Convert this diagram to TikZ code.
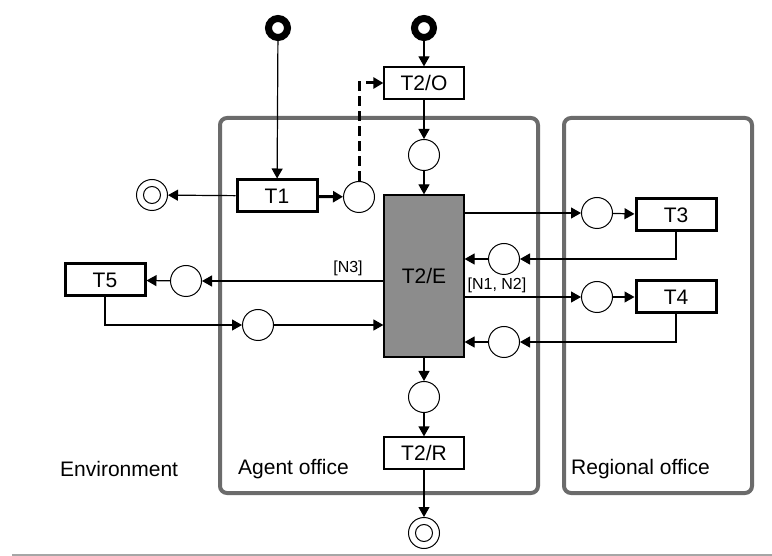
\documentclass[tikz,border=0pt]{standalone}
\usepackage{fontspec}
\setmainfont{Liberation Sans}
\usetikzlibrary{arrows.meta}
\definecolor{actorgray}{RGB}{140,140,140}
\begin{document}
\begin{tikzpicture}[x=1pt,y=-1pt,
  every node/.style={font=\fontsize{21}{23}\selectfont},
  trans/.style={draw, rectangle, minimum width=80pt, minimum height=32pt, inner sep=0pt, line width=1.2pt},
  transthick/.style={trans, line width=3pt},
  actor/.style={draw, rectangle, fill=actorgray, minimum width=80pt, minimum height=162pt, inner sep=0pt, line width=1.2pt},
  place/.style={draw, circle, minimum size=31pt, inner sep=0pt, line width=1pt},
  source/.style={draw=black, circle, line width=7pt, minimum size=19pt, inner sep=0pt},
  sink/.style={draw, circle, minimum size=31pt, inner sep=0pt, line width=1pt,
    path picture={\draw[line width=1pt] (path picture bounding box.center) circle (8.5pt);}},
  conn/.style={-{Triangle[length=10pt,width=11pt]}, line width=1.2pt},
  connthick/.style={conn, line width=3pt},
  connlink/.style={conn, line width=3pt, dash pattern=on 10pt off 5pt},
  office/.style={draw=black!58, line width=4pt, rounded corners=7pt},
  tag/.style={font=\fontsize{16}{18}\selectfont, inner sep=1pt},
  area/.style={inner sep=0pt}]
\useasboundingbox (0,0) rectangle (772,556);
\fill[white] (0,0) rectangle (772,556);

% organisational units
\draw[office] (220,118) rectangle (538,493);
\draw[office] (564,118) rectangle (752,493);
\draw[black!35, line width=1.5pt] (12,555) -- (772,555);

% transactions
\node[transthick] (T1) at (277,196) {T1};
\node[trans] (T2O) at (424,83) {T2/O};
\node[actor] (T2E) at (424,276) {T2/E};
\node[trans] (T2R) at (424,453) {T2/R};
\node[transthick] (T3) at (676,215) {T3};
\node[transthick] (T4) at (676,297) {T4};
\node[transthick] (T5) at (105,280) {T5};

% start and end events
\node[source] (s1) at (278,28) {};
\node[source] (s2) at (424,28) {};
\node[sink] (e1) at (152,195) {};
\node[sink] (e2) at (424,533) {};

% places
\node[place] (pT1) at (359,197) {};
\node[place] (pO) at (424,155) {};
\node[place] (pR) at (424,397) {};
\node[place] (p3a) at (597,213) {};
\node[place] (p3b) at (504,259) {};
\node[place] (p4a) at (597,297) {};
\node[place] (p4b) at (504,342) {};
\node[place] (p5a) at (186,281) {};
\node[place] (p5b) at (258,325) {};

% flows
\draw[conn] (s1) -- (T1);
\draw[conn] (T1) -- (e1);
\draw[connthick] (T1) -- (pT1);
\draw[connlink] (pT1.north) |- (T2O.west);
\draw[conn] (s2) -- (T2O);
\draw[conn] (T2O) -- (pO);
\draw[conn] (pO) -- (T2E);
\draw[conn] (T2E) -- (pR);
\draw[conn] (pR) -- (T2R);
\draw[conn] (T2R) -- (e2);

\draw[conn] (T2E.east |- p3a) -- (p3a);
\draw[conn] (p3a) -- (T3);
\draw[conn] (T3.south) |- (p3b);
\draw[conn] (p3b) -- (T2E.east |- p3b);
\draw[conn] (T2E.east |- p4a) -- (p4a);
\draw[conn] (p4a) -- (T4);
\draw[conn] (T4.south) |- (p4b);
\draw[conn] (p4b) -- (T2E.east |- p4b);

\draw[conn] (T2E.west |- p5a) -- (p5a);
\draw[conn] (p5a) -- (T5);
\draw[conn] (T5.south) |- (p5b);
\draw[conn] (p5b) -- (T2E.west |- p5b);

% message labels
\node[tag] (n3) at (348,268) {[N3]};
\node[tag] (n12) at (497,285) {[N1, N2]};

% unit names
\node[area, anchor=west] (env) at (60,469) {Environment};
\node[area, anchor=west] (ag) at (238,469) {Agent office};
\node[area, anchor=west] (reg) at (571,469) {Regional office};
\end{tikzpicture}
\end{document}
